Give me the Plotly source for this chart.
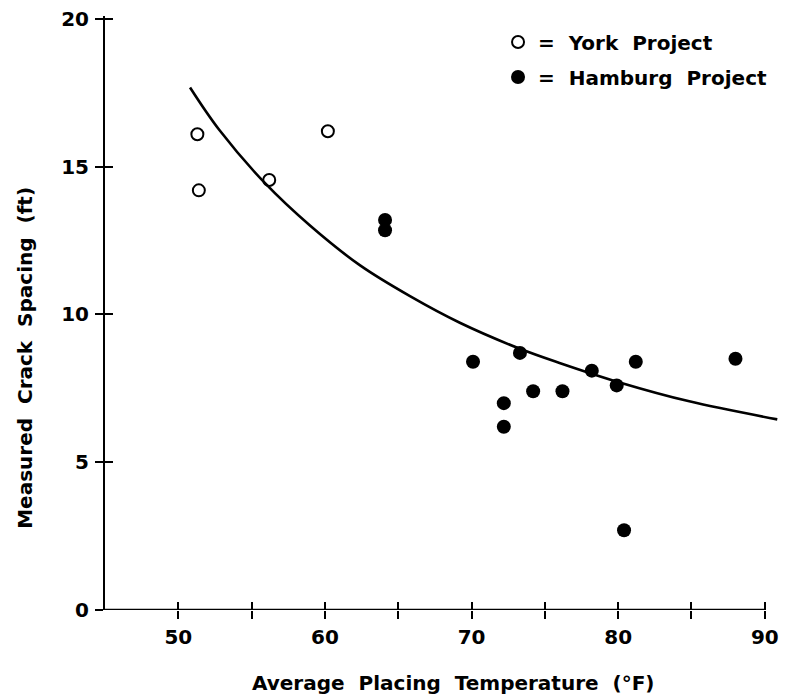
import plotly.graph_objects as go

# Measured crack spacing vs. average placing temperature
york_temp = [51.3, 51.4, 56.2, 60.2]
york_spacing = [16.1, 14.2, 14.55, 16.2]

hamburg_temp = [64.1, 64.1, 70.1, 72.2, 72.2, 73.3, 74.2, 76.2, 78.2, 79.9, 80.4, 81.2, 88.0]
hamburg_spacing = [13.2, 12.85, 8.4, 7.0, 6.2, 8.7, 7.4, 7.4, 8.1, 7.6, 2.7, 8.4, 8.5]

# Trend curve
curve_temp = [50.8, 52.8, 55.9, 59.0, 62.4, 65.8, 69.2, 73.3, 76.0, 80.1, 84.85, 90.85]
curve_spacing = [17.68, 16.24, 14.45, 13.0, 11.66, 10.62, 9.72, 8.84, 8.36, 7.7, 7.06, 6.45]

x_ticks = [50, 55, 60, 65, 70, 75, 80, 85, 90]
x_tick_text = ["50", "", "60", "", "70", "", "80", "", "90"]
y_ticks = [0, 5, 10, 15, 20]

FONT = "DejaVu Sans"
font_bold = dict(family=FONT, size=20, color="black", weight="bold")

fig = go.Figure()

fig.add_trace(go.Scatter(
    x=curve_temp, y=curve_spacing, mode="lines",
    line=dict(color="black", width=2.6, shape="spline", smoothing=1.0),
    showlegend=False, hoverinfo="skip",
))

fig.add_trace(go.Scatter(
    x=york_temp, y=york_spacing, mode="markers",
    name="=  York  Project",
    marker=dict(symbol="circle-open", size=12, color="black", line=dict(width=2, color="black")),
    legendgroup="york",
))

fig.add_trace(go.Scatter(
    x=hamburg_temp, y=hamburg_spacing, mode="markers",
    name="=  Hamburg  Project",
    marker=dict(symbol="circle", size=14, color="black"),
    legendgroup="hamburg",
))

# Empty traces so the mirrored tick axes (inward ticks) get drawn
fig.add_trace(go.Scatter(x=[], y=[], xaxis="x2", yaxis="y", showlegend=False, hoverinfo="skip"))
fig.add_trace(go.Scatter(x=[], y=[], xaxis="x", yaxis="y2", showlegend=False, hoverinfo="skip"))

x_range = [45, 90.9]
y_range = [0, 20.1]

common_x = dict(range=x_range, tickvals=x_ticks, showgrid=False, zeroline=False,
                showline=False, tickwidth=2, tickcolor="black", ticklen=8)
common_y = dict(range=y_range, tickvals=y_ticks, showgrid=False, zeroline=False,
                tickwidth=2, tickcolor="black", ticklen=8)

fig.update_layout(
    width=786, height=696,
    margin=dict(l=105, r=7, t=12, b=86),
    paper_bgcolor="white", plot_bgcolor="white",
    xaxis=dict(**common_x, ticks="outside", ticktext=x_tick_text,
               tickfont=font_bold, ticklabelstandoff=1),
    xaxis2=dict(**common_x, ticks="inside", overlaying="x", anchor="y",
                side="bottom", showticklabels=False),
    yaxis=dict(**common_y, ticks="outside", showline=True, linewidth=2,
               linecolor="black", tickfont=font_bold, ticklabelstandoff=2),
    yaxis2=dict(**common_y, ticks="inside", overlaying="y", anchor="x",
                side="left", showticklabels=False),
    legend=dict(x=0.584, y=0.989, xanchor="left", yanchor="top",
                font=font_bold, bgcolor="rgba(0,0,0,0)", tracegroupgap=6,
                itemwidth=30),
    showlegend=True,
)

# x-axis baseline ending at the last tick
fig.add_shape(type="line", xref="x", yref="y", x0=45, x1=90, y0=0, y1=0,
              line=dict(color="black", width=2.5))

# Axis titles
fig.add_annotation(text="Average  Placing  Temperature  (°F)", xref="paper", yref="paper",
                   x=(454 - 105) / 674, y=-(683 - 610) / 598, showarrow=False,
                   font=font_bold, xanchor="center", yanchor="middle")
fig.add_annotation(text="Measured  Crack  Spacing  (ft)", xref="paper", yref="paper",
                   x=-(105 - 25) / 674, y=(610 - 356) / 598, showarrow=False,
                   textangle=-90, font=font_bold, xanchor="center", yanchor="middle")

fig.write_html("out.html")
